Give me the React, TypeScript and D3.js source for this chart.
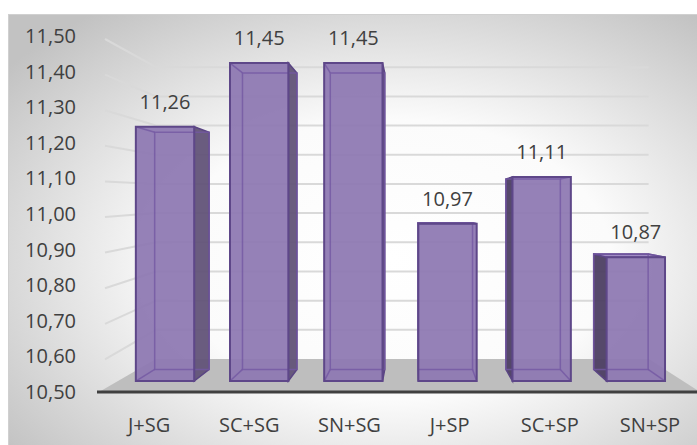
import * as d3 from "d3";

// values
const categories = ["J+SG", "SC+SG", "SN+SG", "J+SP", "SC+SP", "SN+SP"];
const values = [11.26, 11.45, 11.45, 10.97, 11.11, 10.87];
const yTicks = [10.5, 10.6, 10.7, 10.8, 10.9, 11.0, 11.1, 11.2, 11.3, 11.4, 11.5];

const W = 697;
const H = 445;
// perspective: eye point + depth scaling
const VX = 415;
const VY = 209;
const K = 0.22;
const Z_FRONT = 0.29;
const Z_BACK = 0.64;

const fmt = (v: number) => d3.format(".2f")(v).replace(".", ",");

function project(x: number, y: number, z: number): [number, number] {
  const s = 1 / (1 + K * z);
  return [VX + (x - VX) * s, VY + (y - VY) * s];
}

const poly = (pts: [number, number][]) => "M" + pts.map((p) => p.join(",")).join("L") + "Z";

export default function App() {
  const x = d3.scaleBand<string>().domain(categories).range([99, 700]).paddingInner(0.38).paddingOuter(0.19);
  const y = d3.scaleLinear().domain([10.5, 11.5]).range([392, 36]);
  const bw = x.bandwidth();
  const yBase = y(10.5);

  const floor = [
    project(99, yBase, 0),
    project(700, yBase, 0),
    project(700, yBase, 1),
    project(99, yBase, 1),
  ] as [number, number][];

  return (
    <svg
      width={W}
      height={H}
      style={{ position: "absolute", left: 0, top: 0, fontFamily: "'Open Sans', sans-serif" }}
    >
      <defs>
        <radialGradient id="bg" cx="55%" cy="55%" r="70%">
          <stop offset="0%" stopColor="#ffffff" />
          <stop offset="45%" stopColor="#fbfbfb" />
          <stop offset="100%" stopColor="#c2c2c2" />
        </radialGradient>
      </defs>
      <rect x={8.5} y={14.5} width={W} height={H} fill="url(#bg)" stroke="#d0d0d0" />

      {/* gridlines on left wall and back wall */}
      {yTicks.slice(1).map((t) => {
        const a = project(99, y(t), 0);
        const b = project(99, y(t), 1);
        const c = project(700, y(t), 1);
        return (
          <path
            key={t}
            d={`M${a[0] + 6},${a[1] + 3}L${b[0]},${b[1]}L${c[0]},${c[1]}`}
            fill="none"
            stroke="#d9d9d9"
            strokeWidth={2}
          />
        );
      })}

      <path d={poly(floor)} fill="#bebebe" />
      <line x1={97} x2={W} y1={yBase} y2={yBase} stroke="#404040" strokeWidth={3} />

      {yTicks.map((t) => (
        <text key={t} x={76} y={y(t)} dy="0.35em" textAnchor="end" fontSize={20} fill="#404040">
          {fmt(t)}
        </text>
      ))}

      {categories.map((c) => (
        <text key={c} x={(x(c) as number) + bw / 2} y={432} textAnchor="middle" fontSize={20} fill="#404040">
          {c}
        </text>
      ))}

      {categories.map((c, i) => {
        const x0 = x(c) as number;
        const x1 = x0 + bw;
        const yT = y(values[i]);
        const f = (px: number, py: number) => project(px, py, Z_FRONT);
        const b = (px: number, py: number) => project(px, py, Z_BACK);
        const front = [f(x0, yT), f(x1, yT), f(x1, yBase), f(x0, yBase)];
        const back = [b(x0, yT), b(x1, yT), b(x1, yBase), b(x0, yBase)];
        const left = [f(x0, yT), b(x0, yT), b(x0, yBase), f(x0, yBase)];
        const right = [f(x1, yT), b(x1, yT), b(x1, yBase), f(x1, yBase)];
        const top = [f(x0, yT), f(x1, yT), b(x1, yT), b(x0, yT)];
        const showLeft = x0 > VX;
        const showRight = x1 < VX;
        const showTop = yT > VY;
        const hidden: [number, number][][] = [];
        // back edges seen through the transparent front
        hidden.push(back);
        if (!showLeft) hidden.push([f(x0, yT), b(x0, yT)], [f(x0, yBase), b(x0, yBase)]);
        if (!showRight) hidden.push([f(x1, yT), b(x1, yT)], [f(x1, yBase), b(x1, yBase)]);
        const fc = front[0];
        const fd = front[1];
        return (
          <g key={c}>
            {showLeft && <path d={poly(left)} fill="#4d3f63" fillOpacity={0.95} stroke="#5a4583" strokeWidth={1.5} />}
            {showRight && <path d={poly(right)} fill="#625378" fillOpacity={0.95} stroke="#5a4583" strokeWidth={1.5} />}
            {showTop && <path d={poly(top)} fill="#a08bc4" stroke="#5e4789" strokeWidth={1.5} />}
            <path d={poly(front)} fill="#8d77b1" fillOpacity={0.93} />
            {hidden.map((h, k) => (
              <path
                key={k}
                d={h.length > 2 ? poly(h) : "M" + h.map((p) => p.join(",")).join("L")}
                fill="none"
                stroke="#7358a3"
                strokeOpacity={0.8}
                strokeWidth={1.5}
              />
            ))}
            <path d={poly(front)} fill="none" stroke="#5e4789" strokeWidth={2} />
            <text x={(fc[0] + fd[0]) / 2} y={fc[1] - 18} textAnchor="middle" fontSize={20} fill="#404040">
              {fmt(values[i])}
            </text>
          </g>
        );
      })}
    </svg>
  );
}
